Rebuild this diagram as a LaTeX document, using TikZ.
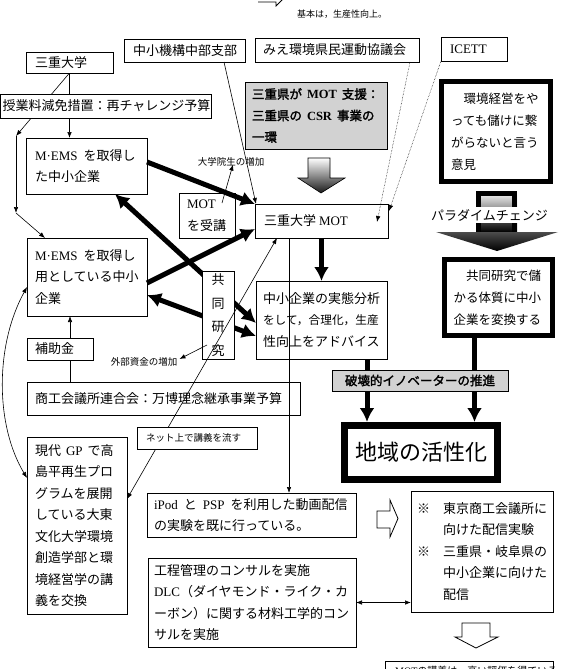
\documentclass[tikz,border=0pt]{standalone}
\usepackage{fontspec}
\setmainfont{Noto Sans CJK JP}
\newfontfamily\lat{Liberation Serif}
\newfontfamily\jpb[FakeBold=2]{Noto Sans CJK JP}
\usetikzlibrary{arrows.meta,calc}
\pgfdeclarelayer{bg}
\pgfsetlayers{bg,main}
\newcommand{\La}[1]{{\lat #1}}
\newcommand{\Lb}[1]{{\lat\bfseries #1}}
\begin{document}
\begin{tikzpicture}[x=1pt,y=-1pt,
  box/.style={draw,fill=white,line width=0.8pt,inner sep=0pt,outer sep=0pt,align=left,font=\fontsize{13}{21.5}\selectfont},
  bbox/.style={box,line width=5pt,outer sep=2.5pt},
  lbl/.style={inner sep=0pt,font=\fontsize{9.5}{11}\selectfont},
  tarr/.style={line width=0.6pt,-{Latex[length=6pt,width=4.5pt]}},
  tdarr/.style={line width=0.6pt,{Latex[length=6pt,width=4.5pt]}-{Latex[length=6pt,width=4.5pt]}},
  dotarr/.style={line width=0.5pt,densely dotted,-{Latex[length=6pt,width=4.5pt]}},
  bigarr/.style={line width=5pt,-{Latex[length=14pt,width=15pt]}},
  bigdarr/.style={line width=5pt,{Latex[length=14pt,width=15pt]}-{Latex[length=14pt,width=15pt]}},
  hollow/.style={draw=black,line width=0.8pt,fill=white}
]
\useasboundingbox (0,0) rectangle (561,669);
\clip (0,0) rectangle (561,669);

% top fragments
\node[lbl,font=\fontsize{9}{11}\selectfont] (kihon) at (342,14) {基本は，生産性向上。};
\draw[line width=0.8pt] (258,2) -- (276,2) -- (276,6) -- (287,-5);

% boxes
\node[box,minimum width=87pt,minimum height=21pt,text width=69pt] (sandai) at (69.5,62.5) {三重大学};
\node[box,minimum width=121pt,minimum height=23pt,text width=103pt] (chusho) at (184.5,50.5) {中小機構中部支部};
\node[box,minimum width=164pt,minimum height=24pt,text width=148pt] (mie) at (337,50) {みえ環境県民運動協議会};
\node[box,minimum width=66pt,minimum height=24pt,text width=48pt] (icett) at (474,49) {\La{ICETT}};
\node[box,minimum width=211pt,minimum height=24pt,text width=207pt] (jugyo) at (106,106) {授業料減免措置：再チャレンジ予算};
\node[box,minimum width=121pt,minimum height=56pt,text width=103pt] (mems1) at (86.5,166) {\La{M·EMS}\hspace{6pt}を取得し\\た中小企業};
\node[box,fill=gray!35,minimum width=142pt,minimum height=67pt,text width=128pt,font=\jpb\fontsize{12.5}{21.5}\selectfont] (shien) at (316,115.5) {三重県が\hspace{5pt}\Lb{MOT}\hspace{5pt}支援：\\三重県の\hspace{5pt}\Lb{CSR}\hspace{5pt}事業の\\一環};
\node[box,minimum width=56pt,minimum height=45pt,text width=40pt] (mot) at (207,215.5) {\La{MOT}\\を受講};
\node[box,minimum width=133pt,minimum height=34pt,text width=115pt] (smot) at (321.5,221) {三重大学\hspace{3pt}\La{MOT}};
\node[box,minimum width=120pt,minimum height=78pt,text width=104pt] (mems2) at (87,277) {\La{M·EMS}\hspace{6pt}を取得し\\用としている中小\\企業};
\node[box,minimum width=32pt,minimum height=88pt,align=center,font=\fontsize{13}{23.5}\selectfont] (kyodo) at (218,315) {共\\同\\研\\究};
\node[box,minimum width=131pt,minimum height=78pt,text width=117pt] (bunseki) at (321.5,320) {中小企業の実態分析\\{\fontsize{11.7}{21.5}\selectfont をして，合理化，生産}\\性向上をアドバイス};
\node[box,minimum width=66pt,minimum height=22pt,text width=50pt] (hojo) at (60,349) {補助金};
\node[box,minimum width=273pt,minimum height=33pt,text width=257pt] (shoko) at (163.5,398.5) {商工会議所連合会：万博理念継承事業予算};
\node[box,minimum width=100pt,minimum height=177pt,text width=84pt] (gendai) at (77,525.5) {現代\hspace{5pt}\La{GP}\hspace{5pt}で高\\島平再生プロ\\グラムを展開\\している大東\\文化大学環境\\創造学部と環\\境経営学の講\\義を交換};
\node[box,minimum width=209pt,minimum height=44pt,text width=195pt] (ipod) at (251.5,515) {\La{iPod}\hspace{6pt}と\hspace{6pt}\La{PSP}\hspace{6pt}を利用した動画配信\\の実験を既に行っている。};
\node[box,minimum width=208pt,minimum height=89pt,text width=196pt] (koutei) at (252,602.5) {工程管理のコンサルを実施\\\La{DLC}（ダイヤモンド・ライク・カ\\ーボン）に関する材料工学的コン\\サルを実施};
\node[box,minimum width=142pt,minimum height=121pt,text width=130pt] (kome) at (482,551.5) {※　東京商工会議所に\\　　向けた配信実験\\※　三重県・岐阜県の\\　　中小企業に向けた\\　　配信};
\node[bbox,minimum width=109pt,minimum height=100pt,text width=90pt,font=\fontsize{12.5}{22}\selectfont] (iken) at (496,131.5) {　環境経営をや\\っても儲けに繋\\がらないと言う\\意見};
\node[bbox,minimum width=108pt,minimum height=76pt,text width=90pt,font=\fontsize{12.5}{22}\selectfont] (henkan) at (498.5,297.5) {　共同研究で儲\\かる体質に中小\\企業を変換する};
\node[box,fill=gray!35,minimum width=176pt,minimum height=21pt,align=center,font=\jpb\fontsize{12.5}{15}\selectfont] (hakai) at (420,380.5) {破壊的イノベーターの推進};
\node[box,line width=7pt,outer sep=3.5pt,minimum width=153pt,minimum height=54pt,align=center,font=\fontsize{22}{26}\selectfont] (chiiki) at (421,452.5) {地域の活性化};
\node[draw,line width=0.8pt,minimum width=168pt,minimum height=40pt,inner sep=0pt] (bot) at (469,681) {};
\node[anchor=west,inner sep=0pt,font=\fontsize{10}{12}\selectfont] (bottxt) at (395,671) {\La{MOT}の講義は，高い評価を得ている};

% labels
\node[lbl] (dgrad) at (231,162) {大学院生の増加};
\node[lbl] (gaibu) at (144,362) {外部資金の増加};

% block arrows
\shade[top color=white,bottom color=black!90,draw=black,line width=0.6pt] (308,158) -- (330,158) -- (330,178) -- (345,178) -- (321,193) -- (298,178) -- (308,178) -- cycle;
\draw[hollow] (377,511) -- (390,511) -- (390,500) -- (398,518.5) -- (390,537) -- (390,528) -- (377,528) -- cycle;
\draw[hollow] (462,623) -- (490,623) -- (490,637) -- (498,637) -- (476,648) -- (455,637) -- (462,637) -- cycle;
\shade[top color=white,bottom color=black] (476,191) rectangle (517,232);
\draw[line width=5pt] (478.5,232) -- (478.5,193.5) -- (514.5,193.5) -- (514.5,232);
\shade[top color=black!70,bottom color=black] (436,232) -- (558,232) -- (497,251) -- cycle;
\node[fill=white,inner sep=2pt,font=\fontsize{13}{15}\selectfont] (para) at (489.5,215) {パラダイムチェンジ};

% connectors behind boxes
\begin{pgfonlayer}{bg}
\coordinate (c1) at (16,136);
\coordinate (c2) at (16,213);
\draw[tarr] (sandai.south) -- (sandai.south |- mems1.north);
\draw[tarr] (sandai.south) -- (c1);
\draw[bigdarr] ($(mems1.south east)+(-32,0)$) -- ($(bunseki.west)+(0,3)$);
\draw[bigdarr] ($(mems2.east)+(0,18)$) -- ($(bunseki.west)+(0,16)$);
\draw[tarr] ($(shoko.north west)+(43,0)$) -- ($(mems2.south west)+(43,0)$);
\draw[bigarr] ($(bunseki.south east)+(-20,0)$) coordinate (f1) -- (f1 |- chiiki.north);
\draw[bigarr] ($(henkan.south west)+(32.5,0)$) coordinate (g1) -- (g1 |- chiiki.north);
\end{pgfonlayer}

% connectors on top
\draw[tarr] (c1) -- (c2);
\draw[tarr] (c2) -- ($(mems2.north west)+(18,0)$);
\draw[bigarr] ($(mems1.east)+(0,-4)$) -- (smot.north west);
\draw[bigarr] ($(mems2.east)+(0,6)$) -- ($(smot.south west)+(0,-9)$);
\draw[bigarr] (smot.south) -- (bunseki.north);
\draw[tarr] ($(chusho.south east)+(-21,0)$) -- ($(smot.north west)+(1,0)$);
\draw[dotarr] ($(mie.south east)+(-9,0)$) -- ($(smot.south east)+(-11,-16)$);
\draw[dotarr] (icett.south west) -- ($(smot.east)+(1,-10)$);
\draw[tarr] ($(mot.north east)+(-13,10)$) -- ($(dgrad.south)+(2,-2)$);
\draw[tarr] ($(kyodo.south west)+(5,-14)$) -- ($(gaibu.east)+(2,-3)$);
\draw[tarr] ($(smot.south west)+(34,0)$) coordinate (v1) -- (v1 |- ipod.north);
\draw[tdarr] ($(gendai.east)+(0,-26.5)$) -- ($(smot.south west)+(22,0)$);
\node[box,minimum width=120pt,minimum height=22pt,text width=102pt,font=\fontsize{9.5}{11}\selectfont] (net) at (197,438) {ネット上で講義を流す};
\draw[tdarr] ($(mems2.west)+(0,10)$) .. controls (-5,345) and (-5,425) .. ($(gendai.west)+(0,-47.5)$);
\draw[tdarr] (koutei.east) -- (koutei.east -| kome.west);
\end{tikzpicture}
\end{document}
